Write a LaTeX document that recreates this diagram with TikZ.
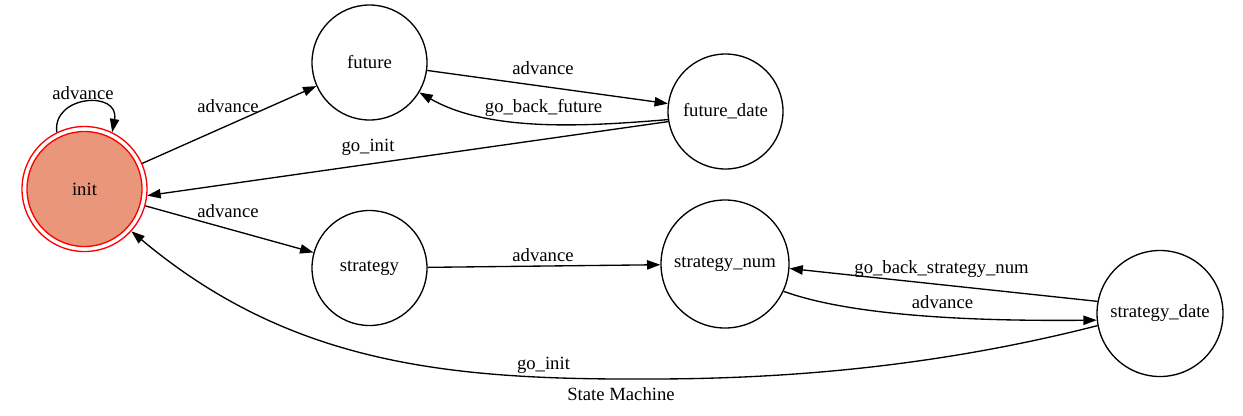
\documentclass[tikz,border=0pt]{standalone}
\usepackage{fontspec}
\setmainfont{Liberation Serif}
\usetikzlibrary{arrows.meta}
\definecolor{salmonfill}{RGB}{233,150,122}
\tikzset{
  state/.style={circle,draw,line width=1pt,inner sep=0pt,minimum size=#1*0.75pt,font=\fontsize{14}{16}\selectfont},
  conn/.style={-{Triangle[length=10pt,width=7pt]},line width=1pt},
  lbl/.style={font=\fontsize{14}{16}\selectfont,anchor=base,inner sep=0pt}
}
\begin{document}
\begin{tikzpicture}[x=0.75pt,y=-0.75pt]
\useasboundingbox (0,0) rectangle (1243,415);
% states
\node[state=115] (future) at (369.5,62.5) {future};
\node[state=115] (fdate) at (725.5,111.5) {future\_date};
\node[state=115] (strategy) at (369.5,268) {strategy};
\node[state=128] (snum) at (725,264) {strategy\_num};
\node[state=126] (sdate) at (1160,313.5) {strategy\_date};
\node[state=125,draw=red] (init) at (84.5,189) {};
\node[state=115,draw=red,fill=salmonfill] (initin) at (84.5,189) {init};
% connectors
\draw[conn] (init.116) .. controls (52,95) and (120,90) .. (init.64);
\draw[conn] (init) -- (future);
\draw[conn] (future) -- (fdate);
\draw[conn] (fdate.188) .. controls (590,126) and (490,133) .. (future.-31);
\draw[conn] (fdate.190) -- (init.-6);
\draw[conn] (init) -- (strategy);
\draw[conn] (strategy) -- (snum);
\draw[conn] (sdate.169.5) -- (snum.-4.5);
\draw[conn] (snum.-25) .. controls (860,319) and (1000,321) .. (sdate.186);
\draw[conn] (sdate.191) .. controls (947,364) and (800,379) .. (650,379) .. controls (450,380) and (291,365) .. (init.-42);
% labels
\node[lbl] (l1) at (83,99) {advance};
\node[lbl] (l2) at (228,112) {advance};
\node[lbl] (l3) at (368,151) {go\_init};
\node[lbl] (l4) at (228,217) {advance};
\node[lbl] (l5) at (543,74) {advance};
\node[lbl] (l6) at (543.5,112.7) {go\_back\_future};
\node[lbl] (l7) at (543,261.7) {advance};
\node[lbl] (l8) at (543.5,369) {go\_init};
\node[lbl] (l9) at (941.5,273.3) {go\_back\_strategy\_num};
\node[lbl] (l10) at (942.5,308.3) {advance};
\node[lbl] (title) at (621,400) {State Machine};
\end{tikzpicture}
\end{document}
